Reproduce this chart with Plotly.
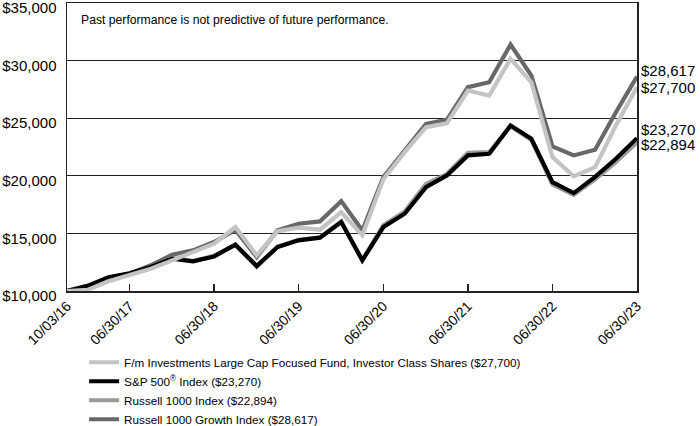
import plotly.graph_objects as go

dates = ["2016-10-03", "2016-12-31", "2017-03-31", "2017-06-30", "2017-09-30", "2017-12-31",
         "2018-03-31", "2018-06-30", "2018-09-30", "2018-12-31", "2019-03-31", "2019-06-30",
         "2019-09-30", "2019-12-31", "2020-03-31", "2020-06-30", "2020-09-30", "2020-12-31",
         "2021-03-31", "2021-06-30", "2021-09-30", "2021-12-31", "2022-03-31", "2022-06-30",
         "2022-09-30", "2022-12-31", "2023-03-31", "2023-06-30"]

fund = [10000, 10100, 10850, 11360, 11940, 12660, 13330, 14100, 15550, 13100, 15200, 15500,
        15320, 16850, 14830, 19700, 22050, 24220, 24560, 27400, 26970, 30150, 28120, 21620,
        19950, 20750, 24370, 27700]
sp500 = [10000, 10450, 11200, 11530, 12080, 12800, 12570, 13000, 14020, 12170, 13820, 14400,
         14630, 15980, 12660, 15550, 16710, 19020, 20030, 21770, 21910, 24370, 23210, 19450,
         18500, 19900, 21480, 23270]
r1000 = [10000, 10450, 11150, 11500, 12050, 12850, 12600, 13050, 14000, 12100, 13850, 14450,
         14650, 16050, 12700, 15700, 16900, 19300, 20150, 22000, 22050, 24300, 23100, 19250,
         18350, 19700, 21200, 22894]
r1000g = [10000, 10200, 11050, 11500, 12230, 13150, 13530, 14250, 15300, 12950, 15260, 15840,
          16040, 17800, 15260, 19900, 22200, 24500, 24860, 27690, 28120, 31390, 28700, 22550,
          21770, 22260, 25520, 28617]

tick_dates = ["2016-10-03", "2017-06-30", "2018-06-30", "2019-06-30", "2020-06-30",
              "2021-06-30", "2022-06-30", "2023-06-30"]
tick_labels = ["10/03/16", "06/30/17", "06/30/18", "06/30/19", "06/30/20", "06/30/21",
               "06/30/22", "06/30/23"]

names = ["F/m Investments Large Cap Focused Fund, Investor Class Shares ($27,700)",
         "S&P 500<sup>®</sup> Index ($23,270)",
         "Russell 1000 Index ($22,894)",
         "Russell 1000 Growth Index ($28,617)"]
end_labels = ["$27,700", "$23,270", "$22,894", "$28,617"]
colors = ["#c4c4c4", "#000000", "#9a9a9a", "#686868"]
series = [fund, sp500, r1000, r1000g]
ranks = [1, 2, 3, 4]
draw_order = [3, 2, 1, 0]
label_shift = [0, 9, -2, 6]

FONT = "Liberation Sans, Arial, Helvetica, sans-serif"

fig = go.Figure()
for i in draw_order:
    fig.add_trace(go.Scatter(
        x=dates, y=series[i], mode="lines", name=names[i],
        line=dict(color=colors[i], width=4.2),
        legendrank=ranks[i], hoverinfo="skip"))

for i in range(4):
    fig.add_annotation(x=dates[-1], y=series[i][-1], text=end_labels[i],
                       xanchor="left", yanchor="middle", showarrow=False,
                       xshift=2, yshift=label_shift[i],
                       font=dict(size=15, color="#000", family=FONT))

fig.add_annotation(x=0.021, y=0.94, xref="paper", yref="paper",
                   text="Past performance is not predictive of future performance.",
                   xanchor="left", yanchor="middle", showarrow=False,
                   font=dict(size=12.2, color="#000", family=FONT))

fig.update_layout(
    width=700, height=426,
    margin=dict(l=67, r=63, t=3, b=135, autoexpand=False),
    paper_bgcolor="white", plot_bgcolor="white",
    font=dict(family=FONT, color="#000"),
    showlegend=True,
    legend=dict(x=0.030, y=-0.197, xref="paper", yref="paper", xanchor="left", yanchor="top",
                font=dict(size=11.7, family=FONT, color="#000"),
                bgcolor="rgba(0,0,0,0)", tracegroupgap=0, itemwidth=30),
)
fig.update_xaxes(
    type="date", range=["2016-10-03", "2023-06-30"],
    tickvals=tick_dates, ticktext=tick_labels, tickangle=-45,
    tickfont=dict(size=14, family=FONT, color="#000"),
    ticks="inside", ticklen=7, tickcolor="#222", tickwidth=1.2,
    showgrid=False, zeroline=False, automargin=False,
    showline=True, linecolor="#222", linewidth=1.5, mirror=True,
)
fig.update_yaxes(
    range=[10000, 35000], dtick=5000, tick0=10000,
    tickprefix="$", tickformat=",",
    tickfont=dict(size=15, family=FONT, color="#000"),
    ticklabelstandoff=6, ticklabelshift=5, ticklabeloverflow="allow",
    showgrid=True, gridcolor="#222", gridwidth=1,
    zeroline=False, automargin=False,
    showline=True, linecolor="#222", linewidth=1.5, mirror=True,
)

fig.write_html("out.html", config={"displayModeBar": False, "staticPlot": True},
               post_script="document.body.style.margin='0';")
